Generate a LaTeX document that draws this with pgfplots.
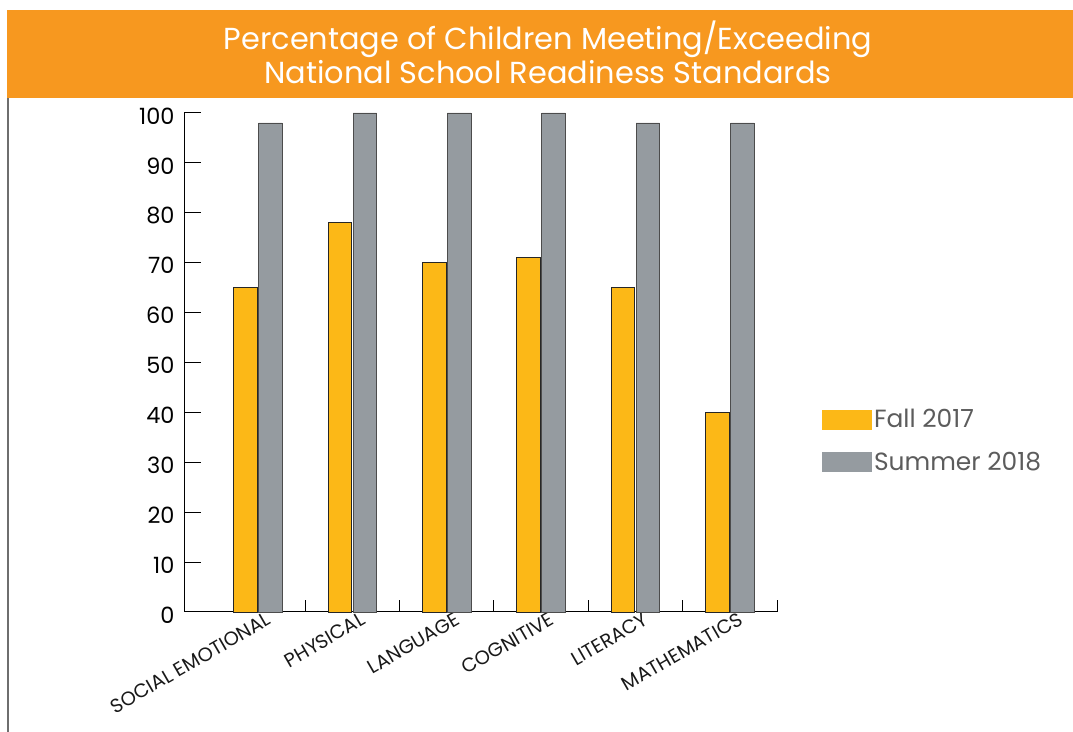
\documentclass[border=0pt]{standalone}
\usepackage{fontspec}
\setmainfont{Poppins}
\usepackage{pgfplots}
\pgfplotsset{compat=1.18}
\definecolor{banner}{HTML}{F7981F}
\definecolor{fallc}{HTML}{FCB817}
\definecolor{sumc}{HTML}{959BA0}
\definecolor{legtxt}{HTML}{5C5C5C}
\definecolor{rule}{HTML}{6E6E6E}

\begin{document}
\begin{tikzpicture}[x=1bp,y=1bp]
\useasboundingbox (0,0) rectangle (1073,732);
% title banner
\fill[banner] (7,634) rectangle (1073,722);
\draw[rule, line width=2bp] (8,0) -- (8,634);
\node[text=white, font=\fontsize{30.5}{34}\selectfont, align=center] at (548,680)
  {Percentage of Children Meeting/Exceeding\\National School Readiness Standards};
\begin{axis}[
  at={(184bp,120bp)}, anchor=south west,
  scale only axis, width=593bp, height=499bp,
  xmin=-0.783, xmax=5.5, ymin=0, ymax=100,
  clip=false,
  axis x line*=bottom, axis y line*=left,
  axis line style={-, black, line width=1bp},
  tick align=inside,
  ytick={0,10,...,100},
  major tick length=17bp,
  every tick/.style={black, line width=1bp},
  xtick={0,...,5},
  x tick style={draw=none},
  xticklabels={SOCIAL EMOTIONAL, PHYSICAL, LANGUAGE, COGNITIVE, LITERACY, MATHEMATICS},
  extra x ticks={0.5,1.5,...,5.5},
  extra x tick labels={},
  extra x tick style={major tick length=12bp, x tick style={draw=black}},
  /pgf/number format/assume math mode=true,
  yticklabel style={font=\fontsize{22.5}{22.5}\selectfont, text=black, yshift=-3bp, xshift=-6bp},
  xticklabel style={font=\fontsize{19.5}{19.5}\selectfont, rotate=30, anchor=north east, xshift=10bp, text=black!90},
  legend style={at={(rel axis cs:1.076,0.343)}, anchor=west, draw=none, fill=none,
    font=\fontsize{25}{25}\selectfont, text=legtxt, row sep=19bp, inner sep=0pt,
    /tikz/every even column/.append style={column sep=4bp}},
  legend cell align=left,
]
\addplot[ybar, bar width=23.5bp, bar shift=-12.5bp, fill=fallc, draw=black!85, line width=0.8bp,
  legend image code/.code={\fill[fallc] (0bp,-9.5bp) rectangle (49bp,9.5bp);}]
  coordinates {(0,65) (1,78) (2,70) (3,71) (4,65) (5,40)};
\addplot[ybar, bar width=23.5bp, bar shift=12.5bp, fill=sumc, draw=black!70, line width=0.8bp,
  legend image code/.code={\fill[sumc] (0bp,-9.5bp) rectangle (49bp,9.5bp);}]
  coordinates {(0,98) (1,100) (2,100) (3,100) (4,98) (5,98)};
\legend{Fall 2017, Summer 2018}
\end{axis}
\end{tikzpicture}
\end{document}
